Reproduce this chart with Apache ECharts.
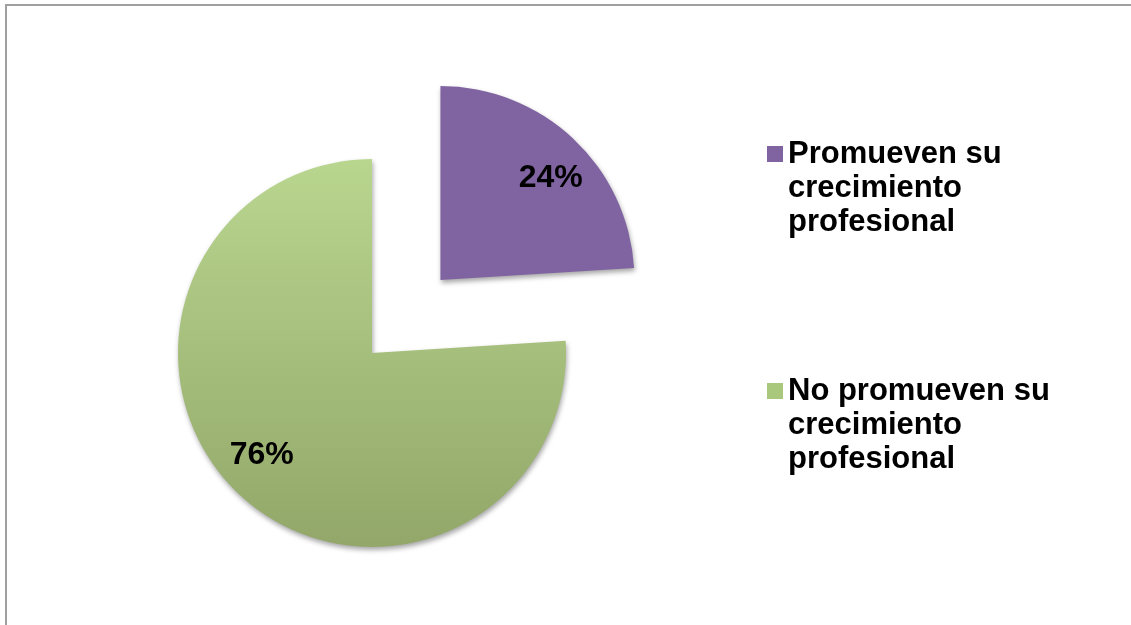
<!DOCTYPE html>
<html>
<head>
<meta charset="utf-8">
<script src="https://cdn.jsdelivr.net/npm/echarts@6/dist/echarts.min.js"></script>
<style>
  html, body { margin: 0; padding: 0; background: #ffffff; }
  #chart { width: 1131px; height: 625px; }
</style>
</head>
<body>
<div id="chart"></div>
<script>
// Survey answer categories and their shares (percent)
const categories = ['Promueven su crecimiento profesional', 'No promueven su crecimiento profesional'];
const legendLines = [
  ['Promueven su', 'crecimiento', 'profesional'],
  ['No promueven su', 'crecimiento', 'profesional']
];
const values = [24, 76];
const explodedIndex = 0;

const FONT = "'Liberation Sans', Arial, sans-serif";
const RADIUS = 194;
const LINE_H = 34;

const purpleFill = '#8064A2';
const greenFill = {
  type: 'linear', x: 0, y: 0, x2: 0, y2: 1,
  colorStops: [
    { offset: 0, color: '#B9D68F' },
    { offset: 1, color: '#92A769' }
  ]
};
const fills = [purpleFill, greenFill];
const legendSwatch = ['#8064A2', '#A9C87C'];

// move each percentage label from the default half-radius spot
// to ~3/4 of the radius, turned slightly clockwise
const total = values.reduce((a, b) => a + b, 0);
let acc = 0;
const labelOffsets = values.map(v => {
  const mid = (acc + v / 2) / total * 2 * Math.PI;
  acc += v;
  const turn = 4 * Math.PI / 180;
  const inner = 0.5 * RADIUS;
  const outer = 0.76 * RADIUS;
  return [
    outer * Math.sin(mid + turn) - inner * Math.sin(mid),
    -outer * Math.cos(mid + turn) + inner * Math.cos(mid)
  ];
});

const chart = echarts.init(document.getElementById('chart'), null, { renderer: 'canvas' });

const legendTops = [69, 306];

chart.setOption({
  backgroundColor: '#ffffff',
  animation: false,
  graphic: [{
    type: 'rect',
    shape: { x: 6, y: 5, width: 1130, height: 640 },
    style: { fill: 'none', stroke: '#a0a0a0', lineWidth: 2 },
    silent: true
  }],
  legend: categories.map((name, i) => ({
    data: [{ name: name, itemStyle: { color: legendSwatch[i] } }],
    orient: 'vertical',
    left: 767,
    top: legendTops[i],
    padding: 0,
    icon: 'rect',
    itemWidth: 16,
    itemHeight: 16,
    selectedMode: false,
    formatter: () => '\n\n' + legendLines[i].join('\n'),
    textStyle: {
      fontFamily: FONT,
      fontWeight: 'bold',
      fontSize: 31,
      lineHeight: LINE_H,
      color: '#000000'
    }
  })),
  series: [{
    type: 'pie',
    center: [372, 353],
    radius: RADIUS,
    startAngle: 90,
    clockwise: true,
    selectedMode: 'single',
    selectedOffset: 100,
    emphasis: { disabled: true },
    itemStyle: {
      shadowBlur: 5,
      shadowColor: 'rgba(0,0,0,0.35)',
      shadowOffsetX: 1,
      shadowOffsetY: 3
    },
    label: {
      show: true,
      position: 'inside',
      formatter: p => p.value + '%',
      fontFamily: FONT,
      fontWeight: 'bold',
      fontSize: 32,
      color: '#000000'
    },
    labelLine: { show: false },
    data: categories.map((name, i) => ({
      name: name,
      value: values[i],
      selected: i === explodedIndex,
      itemStyle: { color: fills[i] },
      label: { offset: labelOffsets[i] },
      select: { label: { offset: labelOffsets[i] } }
    }))
  }]
});
</script>
</body>
</html>
